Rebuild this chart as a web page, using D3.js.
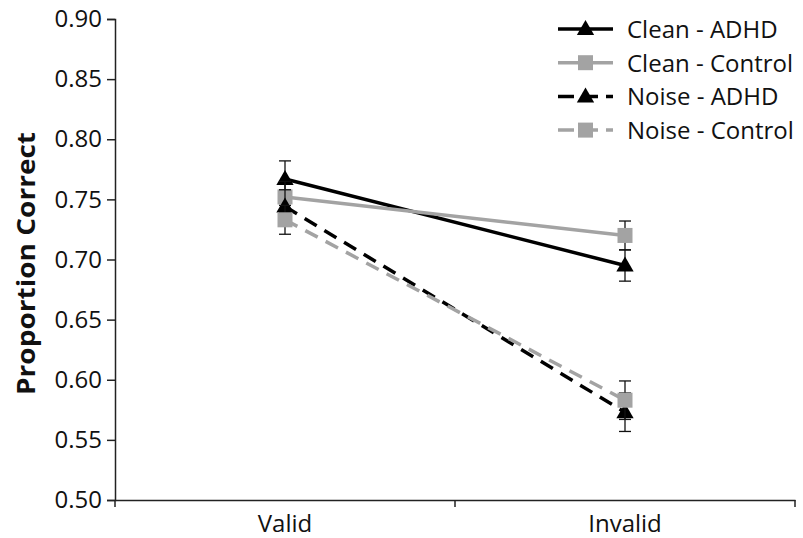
<!DOCTYPE html>
<html>
<head>
<meta charset="utf-8">
<script src="https://cdn.jsdelivr.net/npm/d3@7"></script>
<style>
  body { margin: 0; background: #fff; }
  text { font-family: "Open Sans", "Noto Sans", sans-serif; fill: #111; }
</style>
</head>
<body>
<div id="chart"></div>
<script>
// chart data
var conditions = ["Valid", "Invalid"];
var seriesNames = ["Clean - ADHD", "Clean - Control", "Noise - ADHD", "Noise - Control"];
var cleanADHD = [0.767, 0.695];
var cleanControl = [0.752, 0.720];
var noiseADHD = [0.744, 0.573];
var noiseControl = [0.733, 0.583];
var errCleanADHD = [0.015, 0.013];
var errCleanControl = [0.013, 0.012];
var errNoiseADHD = [0.014, 0.016];
var errNoiseControl = [0.012, 0.016];
var yTicks = [0.50, 0.55, 0.60, 0.65, 0.70, 0.75, 0.80, 0.85, 0.90];

var svgWidth = 803;
var svgHeight = 538;
var margin = { top: 19, right: 8, bottom: 38, left: 115 };
var width = svgWidth - margin.left - margin.right;
var height = svgHeight - margin.top - margin.bottom;

var black = "#000";
var grey = "#a3a3a3";

var series = [
  { name: seriesNames[0], values: cleanADHD, err: errCleanADHD, color: black, dash: null, shape: "triangle" },
  { name: seriesNames[1], values: cleanControl, err: errCleanControl, color: grey, dash: null, shape: "square" },
  { name: seriesNames[2], values: noiseADHD, err: errNoiseADHD, color: black, dash: "14,9", shape: "triangle" },
  { name: seriesNames[3], values: noiseControl, err: errNoiseControl, color: grey, dash: "14,9", shape: "square" }
];

var svg = d3.select("#chart").append("svg")
  .attr("width", svgWidth)
  .attr("height", svgHeight);

var chartGroup = svg.append("g")
  .attr("transform", `translate(${margin.left}, ${margin.top})`);

var xScale = d3.scaleBand().domain(conditions).range([0, width]);
var yScale = d3.scaleLinear().domain([0.5, 0.9]).range([height, 0]);

// y axis
var leftAxis = d3.axisLeft(yScale).tickValues(yTicks).tickFormat(d3.format(".2f")).tickSize(8).tickPadding(5);
var yAxis = chartGroup.append("g").call(leftAxis);
yAxis.select(".domain").attr("stroke", "#222").attr("stroke-width", 1.5);
yAxis.selectAll(".tick line").attr("stroke", "#222").attr("stroke-width", 1.5);
yAxis.selectAll(".tick text").style("font-size", "24px").attr("fill", "#111");

// x axis
var xAxis = chartGroup.append("g")
  .attr("transform", `translate(0, ${height})`)
  .call(d3.axisBottom(xScale).tickSize(0).tickPadding(15));
xAxis.select(".domain").attr("stroke", "#222").attr("stroke-width", 1.5);
xAxis.selectAll(".tick text").style("font-size", "24px").attr("fill", "#111");
// category boundary ticks
xAxis.selectAll("line.bound")
  .data([0, width / 2, width])
  .enter()
  .append("line")
  .attr("x1", d => d).attr("x2", d => d)
  .attr("y1", 0).attr("y2", 7)
  .attr("stroke", "#222").attr("stroke-width", 1.5);

// y label
chartGroup.append("text")
  .attr("transform", "rotate(-90)")
  .attr("x", 0 - (263.5 - margin.top))
  .attr("y", 0 - margin.left + 35)
  .attr("text-anchor", "middle")
  .attr("textLength", 263)
  .attr("lengthAdjust", "spacingAndGlyphs")
  .style("font-size", "25px")
  .style("font-weight", "bold")
  .text("Proportion Correct");

var cx = d => xScale(d) + xScale.bandwidth() / 2;
var triangle = d3.symbol().type(d3.symbolTriangle).size(130);

function drawMarker(g, shape, color, x, y) {
  if (shape === "triangle") {
    g.append("path")
      .attr("d", triangle())
      .attr("transform", `translate(${x}, ${y + 1})`)
      .attr("fill", color);
  } else {
    g.append("rect")
      .attr("x", x - 7.5).attr("y", y - 7.5)
      .attr("width", 15).attr("height", 15)
      .attr("fill", color);
  }
}

var line = d3.line()
  .x((d, i) => cx(conditions[i]))
  .y(d => yScale(d));

series.forEach(function(s) {
  var g = chartGroup.append("g");
  g.append("path")
    .datum(s.values)
    .attr("d", line)
    .attr("fill", "none")
    .attr("stroke", s.color)
    .attr("stroke-width", 3.5)
    .attr("stroke-dasharray", s.dash);

  s.values.forEach(function(v, i) {
    var x = cx(conditions[i]);
    var y1 = yScale(v + s.err[i]);
    var y2 = yScale(v - s.err[i]);
    g.append("line").attr("x1", x).attr("x2", x).attr("y1", y1).attr("y2", y2)
      .attr("stroke", "#111").attr("stroke-width", 1.3);
    [y1, y2].forEach(function(yy) {
      g.append("line").attr("x1", x - 6).attr("x2", x + 6).attr("y1", yy).attr("y2", yy)
        .attr("stroke", "#111").attr("stroke-width", 1.3);
    });
    drawMarker(g, s.shape, s.color, x, yScale(v));
  });
});

// legend
var legend = svg.append("g").attr("transform", "translate(558, 29)");
series.forEach(function(s, i) {
  var row = legend.append("g").attr("transform", `translate(0, ${i * 33.7})`);
  row.append("line")
    .attr("x1", 0).attr("x2", 55).attr("y1", 0).attr("y2", 0)
    .attr("stroke", s.color).attr("stroke-width", 3.5)
    .attr("stroke-dasharray", s.dash ? "16,8" : null);
  drawMarker(row, s.shape, s.color, 27.5, 0);
  row.append("text")
    .attr("x", 69).attr("y", 9)
    .style("font-size", "24px")
    .text(s.name);
});
</script>
</body>
</html>
